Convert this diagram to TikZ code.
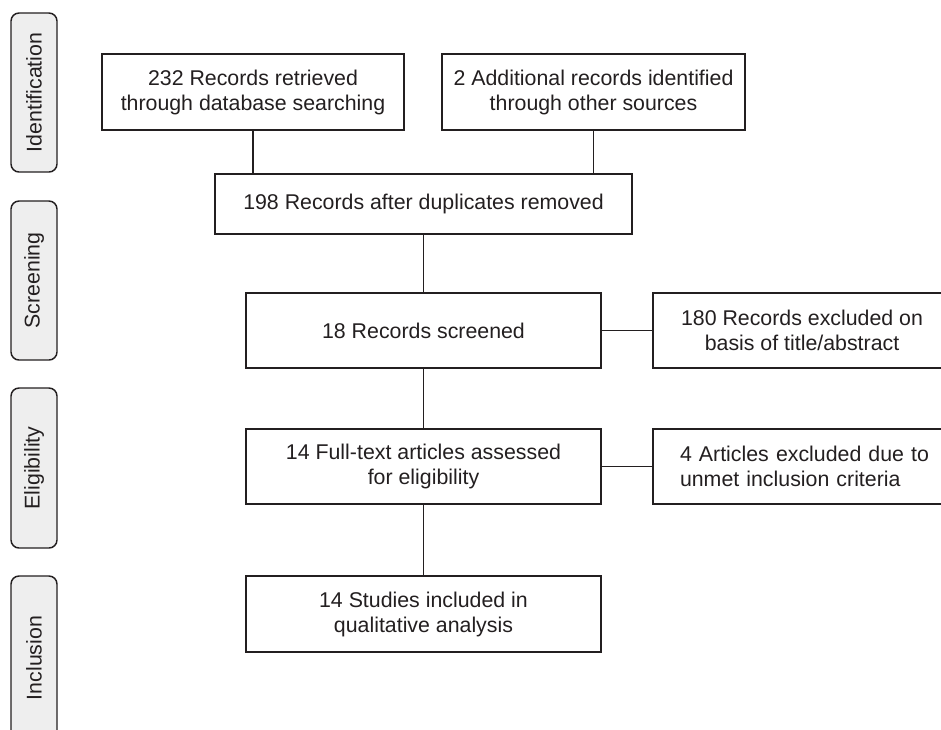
\documentclass[tikz,border=0pt]{standalone}
\usepackage{fontspec}
\setmainfont{Liberation Sans}
\definecolor{ink}{HTML}{231F20}
\definecolor{tabfill}{HTML}{EEEEEE}
\begin{document}
\begin{tikzpicture}[x=0.75pt,y=-0.75pt,
  every node/.style={font=\fontsize{16}{18.75}\selectfont, text=ink},
  flowbox/.style={draw=ink, line width=1.1pt, fill=white, outer sep=0pt, inner sep=0pt, align=center},
  phasetab/.style={draw=ink, line width=1.1pt, fill=tabfill, rounded corners=6pt, outer sep=0pt, inner sep=0pt,
     minimum height=34.5pt, rotate=90},
  conn/.style={draw=ink, line width=1.1pt}]
\useasboundingbox (0,0) rectangle (941,729);
\clip (0,0) rectangle (941,729);
% phase tabs
\node[phasetab, minimum width=119.25pt] (tid) at (34,92.5) {Identification};
\node[phasetab, minimum width=119.25pt] (tsc) at (34,280.5) {Screening};
\node[phasetab, minimum width=120pt] (tel) at (34,468) {Eligibility};
\node[phasetab, minimum width=123pt] (tin) at (34,658) {Inclusion};
% main boxes
\node[flowbox, minimum width=226.5pt, minimum height=57pt] (b1) at (253,92) {232 Records retrieved\\through database searching};
\node[flowbox, minimum width=227.25pt, minimum height=57pt] (b2) at (593.5,92) {2 Additional records identified\\through other sources};
\node[flowbox, minimum width=312.75pt, minimum height=45pt] (b3) at (423.5,204) {198 Records after duplicates removed};
\node[flowbox, minimum width=266.25pt, minimum height=56.25pt] (b4) at (423.5,330.5) {18 Records screened};
\node[flowbox, minimum width=266.25pt, minimum height=56.25pt] (b5) at (423.5,466.5) {14 Full-text articles assessed\\for eligibility};
\node[flowbox, minimum width=266.25pt, minimum height=57pt] (b6) at (423.5,614) {14 Studies included in\\qualitative analysis};
% exclusion boxes
\node[flowbox, minimum width=223.5pt, minimum height=56.25pt] (ra) at (802,330.5) {180 Records excluded on\\basis of title/abstract};
\node[flowbox, align=left, text width=195pt, inner xsep=20.25pt, minimum height=56.25pt, anchor=west] (rb) at (653,466.5) {4 Articles excluded due to\\unmet inclusion criteria};
% connectors
\draw[conn] (b1.south) -- (b1.south |- b3.north);
\draw[conn] (b2.south) -- (b2.south |- b3.north);
\draw[conn] (b3.south) -- (b4.north);
\draw[conn] (b4.south) -- (b5.north);
\draw[conn] (b5.south) -- (b6.north);
\draw[conn] (b4.east) -- (ra.west);
\draw[conn] (b5.east) -- (rb.west);
\end{tikzpicture}
\end{document}
